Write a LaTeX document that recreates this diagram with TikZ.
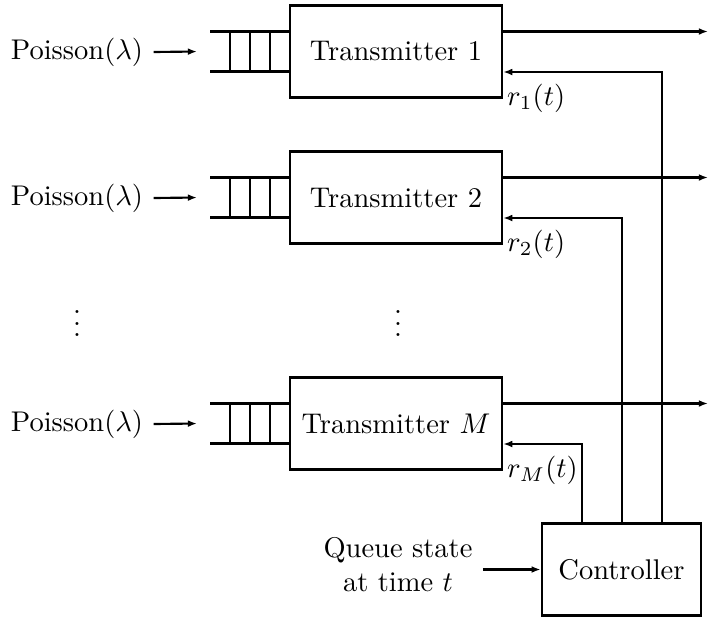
\documentclass[tikz,border=0pt]{standalone}
\usetikzlibrary{arrows.meta}
\begin{document}
\begin{tikzpicture}[x=0.351pt,y=-0.351pt,line width=0.75pt,
  arr/.style={-{Latex[length=3.2pt,width=2.4pt]}},
  txbox/.style={draw,minimum width=74.5pt,minimum height=32.3pt,inner sep=0pt},
  ctrlbox/.style={draw,minimum width=56pt,minimum height=32.3pt,inner sep=0pt},
  lbl/.style={inner sep=3.3pt}]
\useasboundingbox (0,0) rectangle (708,619);
% transmitters
\node[txbox] (T1) at (396,51.5) {Transmitter 1};
\node[txbox] (T2) at (396,197.5) {Transmitter 2};
\node[txbox] (TM) at (396,423.5) {Transmitter $M$};
\node[ctrlbox] (C) at (621.5,569.5) {Controller};
% sources
\node[lbl] (P1) at (77,52) {Poisson($\lambda$)};
\node[lbl] (P2) at (77,198) {Poisson($\lambda$)};
\node[lbl] (PM) at (77,424) {Poisson($\lambda$)};
\node (D1) at (77,315) {$\vdots$};
\node (D2) at (398,315) {$\vdots$};
\node[align=center,lbl] (Q) at (398,565) {Queue state\\at time $t$};
% queues
\foreach \n/\c in {1/51.5,2/197.5,M/423.5}{
  \coordinate (q\n) at (197,\c);
  \draw (210,\c-20) -- (T\n.west |- 0,\c-20);
  \draw (210,\c+20) -- (T\n.west |- 0,\c+20);
  \foreach \xx in {230,250,270} \draw (\xx,\c-20) -- (\xx,\c+20);
  \coordinate (o\n) at (708,\c-20);
  \coordinate (r\n) at (T\n.east |- 0,\c+20.5);
}
\draw[arr] (P1.east) -- (q1);
\draw[arr] (P2.east) -- (q2);
\draw[arr] (PM.east) -- (qM);
% outputs
\draw[arr] (T1.east |- o1) -- (o1);
\draw[arr] (T2.east |- o2) -- (o2);
\draw[arr] (TM.east |- oM) -- (oM);
% rate control
\coordinate (v1) at (662,0);
\coordinate (v2) at (622,0);
\coordinate (vM) at (582,0);
\draw[arr] (C.north -| v1) |- (r1);
\draw[arr] (C.north -| v2) |- (r2);
\draw[arr] (C.north -| vM) |- (rM);
\node[anchor=west,inner sep=1pt] (L1) at (T1.south east) {$r_1(t)$};
\node[anchor=west,inner sep=1pt] (L2) at (T2.south east) {$r_2(t)$};
\node[anchor=west,inner sep=1pt] (LM) at (TM.south east) {$r_M(t)$};
\draw[arr] (Q.east |- C.west) -- (C.west);
\end{tikzpicture}
\end{document}
